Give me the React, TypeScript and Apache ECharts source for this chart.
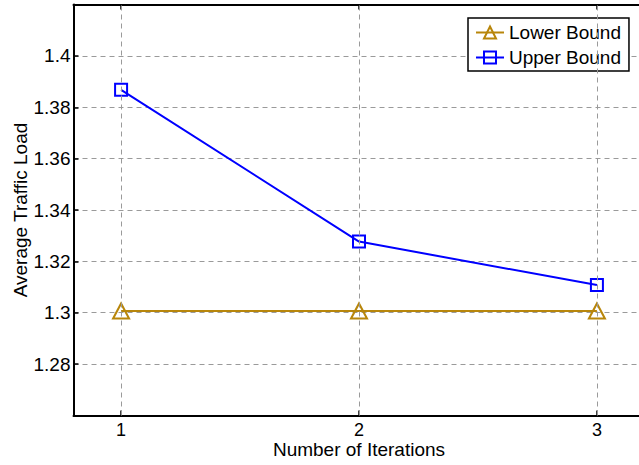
import React, { useEffect, useRef } from "react";
import * as echarts from "echarts";

const iterations = [1, 2, 3];
const lowerBound = [1.3007, 1.3007, 1.3007];
const upperBound = [1.3868, 1.3277, 1.3108];
const xTickValues = [1, 2, 3];
const seriesNames = ["Lower Bound", "Upper Bound"];

const FONT = "'Liberation Sans', Arial, Helvetica, sans-serif";

export default function App() {
  const ref = useRef<HTMLDivElement>(null);
  useEffect(() => {
    if (!ref.current) return;
    const chart = echarts.init(ref.current, null, { renderer: "svg" });
    const gridDash = { color: "#9a9a9a", width: 1, type: [5, 4] as any };
    chart.setOption({
      animation: false,
      backgroundColor: "#fff",
      textStyle: { fontFamily: FONT },
      grid: {
        left: 73.5,
        top: 4.5,
        right: -5.5,
        bottom: 49.5,
        containLabel: false,
        outerBoundsMode: "none",
      },
      legend: {
        orient: "vertical",
        left: 468,
        top: 18,
        padding: [5, 8, 4, 7],
        itemGap: 6,
        itemWidth: 28,
        itemHeight: 15,
        borderColor: "#000",
        borderWidth: 1.5,
        borderRadius: 0,
        backgroundColor: "#fff",
        textStyle: { fontFamily: FONT, fontSize: 19, color: "#000" },
        data: seriesNames,
      },
      xAxis: [
        {
          type: "value",
          min: 0.8,
          max: 3.2,
          name: "Number of Iterations",
          nameLocation: "middle",
          nameGap: 24,
          nameMoveOverlap: false,
          nameTextStyle: { fontFamily: FONT, fontSize: 19, color: "#000" },
          axisLine: { show: true, onZero: false, lineStyle: { color: "#000", width: 2 } },
          axisTick: { show: true, inside: true, length: 5, customValues: xTickValues, lineStyle: { color: "#000", width: 1.5 } },
          axisLabel: { show: true, customValues: xTickValues, margin: 5, fontFamily: FONT, fontSize: 18, color: "#000" },
          splitLine: { show: false },
        },
        {
          type: "value",
          position: "top",
          min: 0.8,
          max: 3.2,
          axisLine: { show: true, onZero: false, lineStyle: { color: "#000", width: 2 } },
          axisTick: { show: true, inside: true, length: 5, customValues: xTickValues, lineStyle: { color: "#000", width: 1.5 } },
          axisLabel: { show: false },
          splitLine: { show: false },
        },
      ],
      yAxis: {
        type: "value",
        min: 1.26,
        max: 1.42,
        interval: 0.02,
        name: "Average Traffic Load",
        nameLocation: "middle",
        nameGap: 44,
        nameMoveOverlap: false,
        nameTextStyle: { fontFamily: FONT, fontSize: 19, color: "#000" },
        axisLine: { show: true, onZero: false, lineStyle: { color: "#000", width: 2 } },
        axisTick: { show: true, inside: true, length: 5, lineStyle: { color: "#000", width: 1.5 } },
        axisLabel: {
          margin: 3,
          fontFamily: FONT,
          fontSize: 19,
          color: "#000",
          formatter: (v: number) => {
            if (Math.abs(v - 1.26) < 1e-6 || Math.abs(v - 1.42) < 1e-6) return "";
            return String(Math.round(v * 100) / 100);
          },
        },
        splitLine: { show: true, lineStyle: gridDash },
      },
      series: [
        {
          name: "grid",
          type: "line",
          data: [],
          z: 1,
          silent: true,
          markLine: {
            silent: true,
            symbol: "none",
            label: { show: false },
            lineStyle: gridDash,
            data: xTickValues.map((v) => ({ xAxis: v })),
          },
        },
        {
          name: seriesNames[0],
          type: "line",
          z: 3,
          data: iterations.map((x, i) => [x, lowerBound[i]]),
          symbol: "triangle",
          symbolSize: [16, 15],
          showAllSymbol: true,
          lineStyle: { color: "#B8860B", width: 2 },
          itemStyle: { color: "rgba(0,0,0,0)", borderColor: "#B8860B", borderWidth: 2 },
        },
        {
          name: seriesNames[1],
          type: "line",
          z: 3,
          data: iterations.map((x, i) => [x, upperBound[i]]),
          symbol: "rect",
          symbolSize: 12,
          showAllSymbol: true,
          lineStyle: { color: "#0000FF", width: 2 },
          itemStyle: { color: "rgba(0,0,0,0)", borderColor: "#0000FF", borderWidth: 2 },
        },
      ],
    });
    return () => chart.dispose();
  }, []);
  return (
    <div
      ref={ref}
      style={{ position: "fixed", left: 0, top: 0, width: 639, height: 465, background: "#fff" }}
    />
  );
}
